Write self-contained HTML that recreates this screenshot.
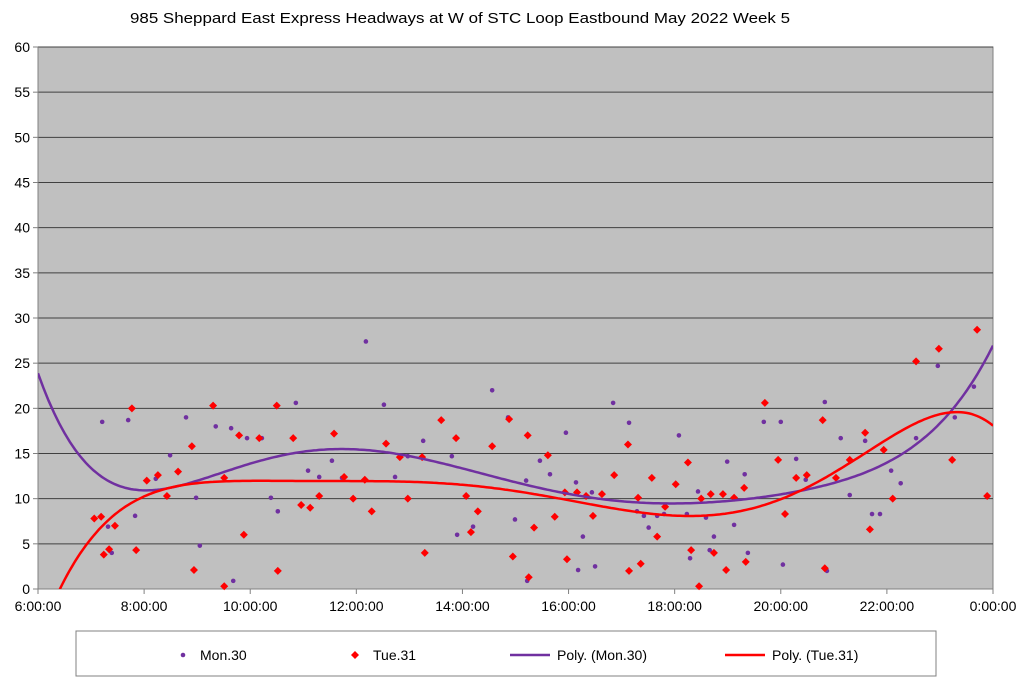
<!DOCTYPE html>
<html><head><meta charset="utf-8"><style>
body{margin:0;background:#fff;font-family:"Liberation Sans",Arial,sans-serif}
svg{display:block}
</style></head><body>
<svg id="chart" width="1024" height="686" xmlns="http://www.w3.org/2000/svg"></svg>
<script>
const monHours=[7.21,7.70,7.32,7.39,7.83,8.22,8.49,8.79,8.98,9.05,9.35,9.64,9.68,9.94,10.22,10.39,10.52,10.86,11.09,11.30,11.54,11.73,12.18,12.52,12.73,12.97,13.26,13.80,13.90,14.20,14.56,14.86,14.99,15.20,15.22,15.46,15.65,15.95,16.14,16.18,16.27,16.44,16.50,16.84,17.14,17.29,17.42,17.51,17.67,17.80,18.08,18.23,18.29,18.44,18.59,18.66,18.74,18.99,19.12,19.32,19.38,19.68,20.00,20.04,20.29,20.47,20.83,20.87,21.13,21.30,21.59,21.72,21.87,22.08,22.26,22.55,22.96,23.28,23.64];
const monHeadways=[18.5,18.7,6.9,4.0,8.1,12.2,14.8,19.0,10.1,4.8,18.0,17.8,0.9,16.7,16.7,10.1,8.6,20.6,13.1,12.4,14.2,12.3,27.4,20.4,12.4,14.7,16.4,14.7,6.0,6.9,22.0,19.0,7.7,12.0,0.9,14.2,12.7,17.3,11.8,2.1,5.8,10.7,2.5,20.6,18.4,8.6,8.1,6.8,8.1,8.3,17.0,8.3,3.4,10.8,7.9,4.3,5.8,14.1,7.1,12.7,4.0,18.5,18.5,2.7,14.4,12.1,20.7,2.0,16.7,10.4,16.4,8.3,8.3,13.1,11.7,16.7,24.7,19.0,22.4];
const tueHours=[7.06,7.19,7.24,7.34,7.45,7.77,7.85,8.05,8.26,8.43,8.64,8.90,8.94,9.30,9.51,9.51,9.79,9.88,10.17,10.50,10.52,10.81,10.96,11.13,11.30,11.58,11.77,11.94,12.16,12.29,12.56,12.82,12.97,13.24,13.29,13.60,13.88,14.07,14.16,14.29,14.56,14.88,14.95,15.23,15.25,15.35,15.61,15.74,15.93,15.97,16.16,16.33,16.46,16.63,16.86,17.12,17.14,17.31,17.36,17.57,17.67,17.82,18.02,18.25,18.31,18.46,18.50,18.68,18.74,18.91,18.97,19.12,19.31,19.34,19.70,19.95,20.08,20.29,20.49,20.79,20.83,21.04,21.30,21.59,21.68,21.94,22.11,22.55,22.98,23.23,23.70,23.89];
const tueHeadways=[7.8,8.0,3.8,4.4,7.0,20.0,4.3,12.0,12.6,10.3,13.0,15.8,2.1,20.3,12.3,0.3,17.0,6.0,16.7,20.3,2.0,16.7,9.3,9.0,10.3,17.2,12.4,10.0,12.1,8.6,16.1,14.6,10.0,14.6,4.0,18.7,16.7,10.3,6.3,8.6,15.8,18.8,3.6,17.0,1.3,6.8,14.8,8.0,10.7,3.3,10.7,10.3,8.1,10.5,12.6,16.0,2.0,10.1,2.8,12.3,5.8,9.1,11.6,14.0,4.3,0.3,10.0,10.5,4.0,10.5,2.1,10.1,11.2,3.0,20.6,14.3,8.3,12.3,12.6,18.7,2.3,12.3,14.3,17.3,6.6,15.4,10.0,25.2,26.6,14.3,28.7,10.3];
const yTicks=[0,5,10,15,20,25,30,35,40,45,50,55,60];
const xTickHours=[6,8,10,12,14,16,18,20,22,24];
const xTickLabels=["6:00:00","8:00:00","10:00:00","12:00:00","14:00:00","16:00:00","18:00:00","20:00:00","22:00:00","0:00:00"];
const polyOrder=6;

const NS="http://www.w3.org/2000/svg";
const svg=document.getElementById('chart');
const L=38,R=993,T=47,B=589;
const xs=h=>L+(h-6)/18*(R-L);
const ys=v=>B-v/60*(B-T);
function mk(tag,attrs,parent){const e=document.createElementNS(NS,tag);for(const k in attrs)e.setAttribute(k,attrs[k]);(parent||svg).appendChild(e);return e;}

const title=mk('text',{x:130,y:23,'font-size':14.5,fill:'#000',textLength:660,lengthAdjust:'spacingAndGlyphs','xml:space':'preserve'});


title.textContent='985 Sheppard East Express Headways at W of STC Loop Eastbound May 2022  Week 5';

const plot=mk('rect',{x:L,y:T,width:R-L,height:B-T,fill:'#c0c0c0',stroke:'#808080','stroke-width':1});


mk('defs',{}).innerHTML='<clipPath id="pc"><rect x="'+L+'" y="'+T+'" width="'+(R-L)+'" height="'+(B-T)+'"/></clipPath>';

yTicks.forEach(v=>{
  const g=mk('line',{x1:L,x2:R,y1:ys(v),y2:ys(v),stroke:v===0?'#808080':'#404040','stroke-width':1});
  
  
  mk('line',{x1:L-5,x2:L,y1:ys(v),y2:ys(v),stroke:'#808080'});
  const t=mk('text',{x:L-8,y:ys(v)+5,'font-size':14,'text-anchor':'end',fill:'#000'});
  
  
  t.textContent=v;
});
mk('line',{x1:L,x2:L,y1:T,y2:B,stroke:'#808080'});
xTickHours.forEach((h,i)=>{
  mk('line',{x1:xs(h),x2:xs(h),y1:B,y2:B+5,stroke:'#808080'});
  const t=mk('text',{x:xs(h),y:611,'font-size':14,'text-anchor':'middle',fill:'#000'});
  
  
  t.textContent=xTickLabels[i];
});

function fit(xa,ya,n){
  const m=n+1,A=[],b=[];
  const nx=x=>(x-15)/9;
  for(let i=0;i<m;i++){A.push(new Array(m).fill(0));b.push(0);}
  for(let k=0;k<xa.length;k++){const x=nx(xa[k]);const p=[];for(let i=0;i<m;i++)p.push(Math.pow(x,i));
    for(let i=0;i<m;i++){b[i]+=p[i]*ya[k];for(let j=0;j<m;j++)A[i][j]+=p[i]*p[j];}}
  for(let i=0;i<m;i++){let mx=i;for(let r=i+1;r<m;r++)if(Math.abs(A[r][i])>Math.abs(A[mx][i]))mx=r;
    [A[i],A[mx]]=[A[mx],A[i]];[b[i],b[mx]]=[b[mx],b[i]];
    for(let r=i+1;r<m;r++){const f=A[r][i]/A[i][i];for(let j=i;j<m;j++)A[r][j]-=f*A[i][j];b[r]-=f*b[i];}}
  const c=new Array(m).fill(0);
  for(let i=m-1;i>=0;i--){let s=b[i];for(let j=i+1;j<m;j++)s-=A[i][j]*c[j];c[i]=s/A[i][i];}
  return h=>{const x=nx(h);let s=0;for(let i=m-1;i>=0;i--)s=s*x+c[i];return s;};
}
function trend(xa,ya,color,name){
  const f=fit(xa,ya,polyOrder);let d='';
  for(let h=6;h<=24.0001;h+=0.05)d+=(d?'L':'M')+xs(h).toFixed(1)+','+ys(f(h)).toFixed(1);
  const p=mk('path',{d:d,fill:'none',stroke:color,'stroke-width':2.5,'clip-path':'url(#pc)'});
  
  
}

const gm=mk('g',{});


monHours.forEach((h,i)=>{const c=mk('circle',{cx:xs(h),cy:ys(monHeadways[i]),r:2.3,fill:'#7030a0'},gm);
  
  });
const gt=mk('g',{});


tueHours.forEach((h,i)=>{const x=xs(h),y=ys(tueHeadways[i]);
  const p=mk('polygon',{points:`${x},${y-4} ${x+4},${y} ${x},${y+4} ${x-4},${y}`,fill:'#ff0000'},gt);
  
  });
trend(monHours,monHeadways,'#7030a0','mon30-trendline');
trend(tueHours,tueHeadways,'#ff0000','tue31-trendline');

const lg=mk('g',{});


mk('rect',{x:76,y:631,width:860,height:45,fill:'#fff',stroke:'#808080'},lg);
mk('circle',{cx:183,cy:655,r:2.3,fill:'#7030a0'},lg);
mk('polygon',{points:'355,651 359,655 355,659 351,655',fill:'#ff0000'},lg);
mk('line',{x1:510,x2:550,y1:655,y2:655,stroke:'#7030a0','stroke-width':2.5},lg);
mk('line',{x1:725,x2:765,y1:655,y2:655,stroke:'#ff0000','stroke-width':2.5},lg);
[[200,'Mon.30'],[373,'Tue.31'],[557,'Poly. (Mon.30)'],[772,'Poly. (Tue.31)']].forEach((e,i)=>{
  const t=mk('text',{x:e[0],y:660,'font-size':14,fill:'#000'},lg);
  
  
  t.textContent=e[1];
});
</script>
</body></html>
